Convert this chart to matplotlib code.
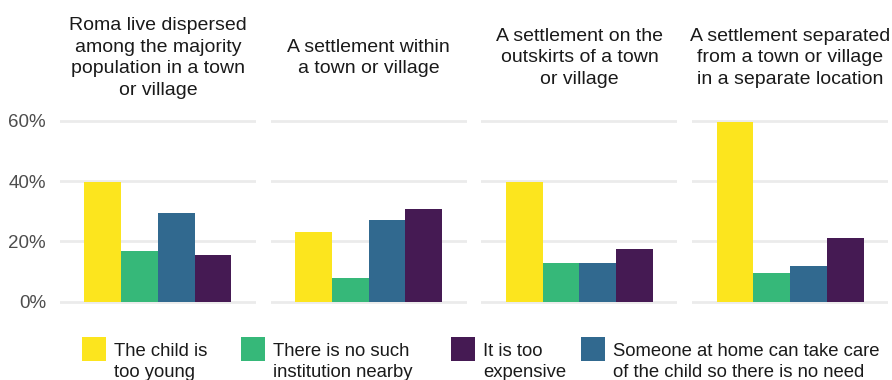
import matplotlib

matplotlib.use("Agg")

import matplotlib.pyplot as plt
import numpy as np
from matplotlib.patches import Rectangle

plt.rcParams.update(
    {
        "font.family": ["Liberation Sans", "DejaVu Sans"],
        "font.size": 13.5,
    }
)

# Facet titles (settlement type)
SETTLEMENTS = [
    "Roma live dispersed\namong the majority\npopulation in a town\nor village",
    "A settlement within\na town or village",
    "A settlement on the\noutskirts of a town\nor village",
    "A settlement separated\nfrom a town or village\nin a separate location",
]

# Share of respondents (%) per reason, one value per settlement type
TOO_YOUNG = [39.7, 23.1, 39.7, 59.6]
NO_INSTITUTION = [16.8, 7.9, 12.8, 9.5]
NO_NEED = [29.4, 27.1, 12.8, 11.8]
TOO_EXPENSIVE = [15.5, 30.7, 17.5, 21.1]

# Bar order within each facet
BAR_SERIES = [TOO_YOUNG, NO_INSTITUTION, NO_NEED, TOO_EXPENSIVE]
BAR_COLORS = ["#FCE51E", "#36B879", "#31698F", "#451A53"]

# Legend order
LEGEND_LABELS = [
    "The child is\ntoo young",
    "There is no such\ninstitution nearby",
    "It is too\nexpensive",
    "Someone at home can take care\nof the child so there is no need",
]
LEGEND_COLORS = ["#FCE51E", "#36B879", "#451A53", "#31698F"]

Y_TICKS = [0, 20, 40, 60]

W, H = 892, 380
GRID_COLOR = "#EBEBEB"


def fx(px):
    return px / W


def fy(py):
    # pixel from top -> figure fraction from bottom
    return 1 - py / H


fig = plt.figure(figsize=(W / 100, H / 100), dpi=100)

# y mapping: 0% at 301.7 px, 60% at 120.7 px
px_per_unit = (301.7 - 120.7) / 60
y_lo, y_hi = -3, 63
ax_top = 120.7 - (y_hi - 60) * px_per_unit
ax_bot = 301.7 + (0 - y_lo) * px_per_unit

panel_w = 196
panel_step = 210.7
x = np.arange(len(BAR_SERIES))

for i, title in enumerate(SETTLEMENTS):
    left = 60 + i * panel_step
    ax = fig.add_axes([fx(left), fy(ax_bot), fx(panel_w), (ax_bot - ax_top) / H])
    vals = [series[i] for series in BAR_SERIES]
    ax.bar(x, vals, width=1.0, color=BAR_COLORS, linewidth=0, zorder=3)
    ax.set_xlim(-0.5 - 2 / 3, 3.5 + 2 / 3)
    ax.set_ylim(y_lo, y_hi)
    ax.set_yticks(Y_TICKS)
    ax.grid(axis="y", color=GRID_COLOR, linewidth=2.0, zorder=0)
    ax.set_axisbelow(True)
    ax.set_xticks([])
    for s in ax.spines.values():
        s.set_visible(False)
    if i == 0:
        ax.set_yticklabels([f"{t}%" for t in Y_TICKS], color="#4D4D4D")
        ax.tick_params(axis="y", length=0, pad=10)
    else:
        ax.tick_params(axis="y", length=0, labelleft=False)

    fig.text(
        fx(left + panel_w / 2),
        fy(58),
        title,
        ha="center",
        va="center",
        fontsize=14,
        color="#1A1A1A",
        linespacing=1.38,
    )

# legend drawn along the bottom
patch_x = [82, 241, 451, 581]
text_x = [114, 273, 483, 613]
for px, tx, label, color in zip(patch_x, text_x, LEGEND_LABELS, LEGEND_COLORS):
    fig.patches.append(
        Rectangle(
            (fx(px), fy(361)),
            fx(24),
            24 / H,
            transform=fig.transFigure,
            facecolor=color,
            edgecolor="none",
        )
    )
    fig.text(
        fx(tx),
        fy(343),
        label,
        ha="left",
        va="top",
        fontsize=13.3,
        color="#1A1A1A",
        linespacing=1.3,
    )

fig.savefig("out.png", dpi=100)
